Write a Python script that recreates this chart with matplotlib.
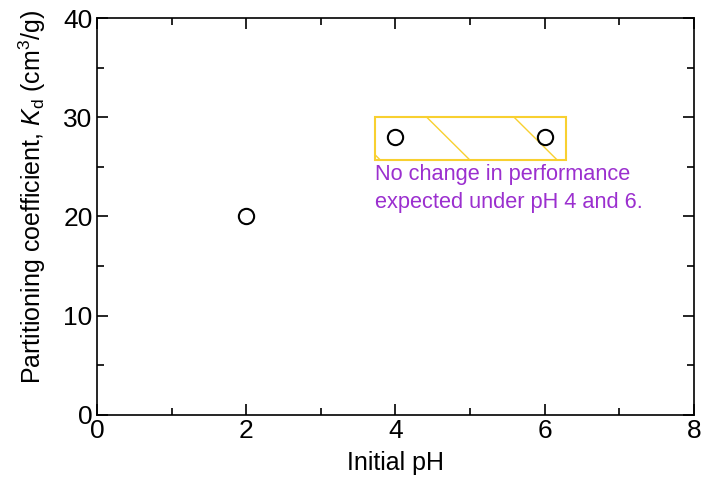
import matplotlib
matplotlib.use("Agg")
import matplotlib.pyplot as plt
from matplotlib.patches import Rectangle
from matplotlib.ticker import MultipleLocator

ph = [2, 4, 6]
kd = [20, 28, 28]
xticks = [0, 2, 4, 6, 8]
yticks = [0, 10, 20, 30, 40]
box_x = [3.72, 6.28]
box_y = [25.7, 30.0]
hatch_top_x = [3.22, 4.42, 5.59]
note = "No change in performance\nexpected under pH 4 and 6."

plt.rcParams['font.family'] = ['Liberation Sans', 'DejaVu Sans']
plt.rcParams['mathtext.fontset'] = 'custom'
plt.rcParams['mathtext.rm'] = 'Liberation Sans'
plt.rcParams['mathtext.it'] = 'Liberation Sans:italic'

fig = plt.figure(figsize=(7.02, 4.84), dpi=100)
ax = fig.add_axes([0.138, 0.1426, 0.8506, 0.8202])

gold = '#F8D030'
purple = '#9B2FCF'

rect = Rectangle((box_x[0], box_y[0]), box_x[1] - box_x[0], box_y[1] - box_y[0],
                 facecolor='none', edgecolor=gold, lw=1.5, zorder=2)
ax.add_patch(rect)
# sparse diagonal hatch lines clipped to the box
dx = 0.576
for x0 in hatch_top_x:
    ln, = ax.plot([x0, x0 + dx], [box_y[1], box_y[0]], color=gold, lw=1.0, zorder=2)
    ln.set_clip_path(rect)

ax.plot(ph, kd, linestyle='none', marker='o', markersize=11, markerfacecolor='white',
        markeredgecolor='black', markeredgewidth=1.5, zorder=3)

ax.text(box_x[0], 25.25, note, color=purple, fontsize=15.7, ha='left', va='top',
        linespacing=1.4)

ax.set_xlim(xticks[0], xticks[-1])
ax.set_ylim(yticks[0], yticks[-1])
ax.set_xticks(xticks)
ax.set_yticks(yticks)
ax.xaxis.set_minor_locator(MultipleLocator(1))
ax.yaxis.set_minor_locator(MultipleLocator(5))
ax.tick_params(which='both', direction='in', top=True, right=True, width=1.2)
ax.tick_params(which='major', length=8, labelsize=19, pad=3)
ax.tick_params(which='minor', length=5)
for s in ax.spines.values():
    s.set_linewidth(1.2)

ax.set_xlabel('Initial pH', fontsize=18, labelpad=6)
ax.set_ylabel(r'Partitioning coefficient, $K_{\mathrm{d}}$ (cm$^{3}$/g)', fontsize=18)
ax.yaxis.set_label_coords(-0.082, 0.55)

fig.savefig('out.png', dpi=100)
